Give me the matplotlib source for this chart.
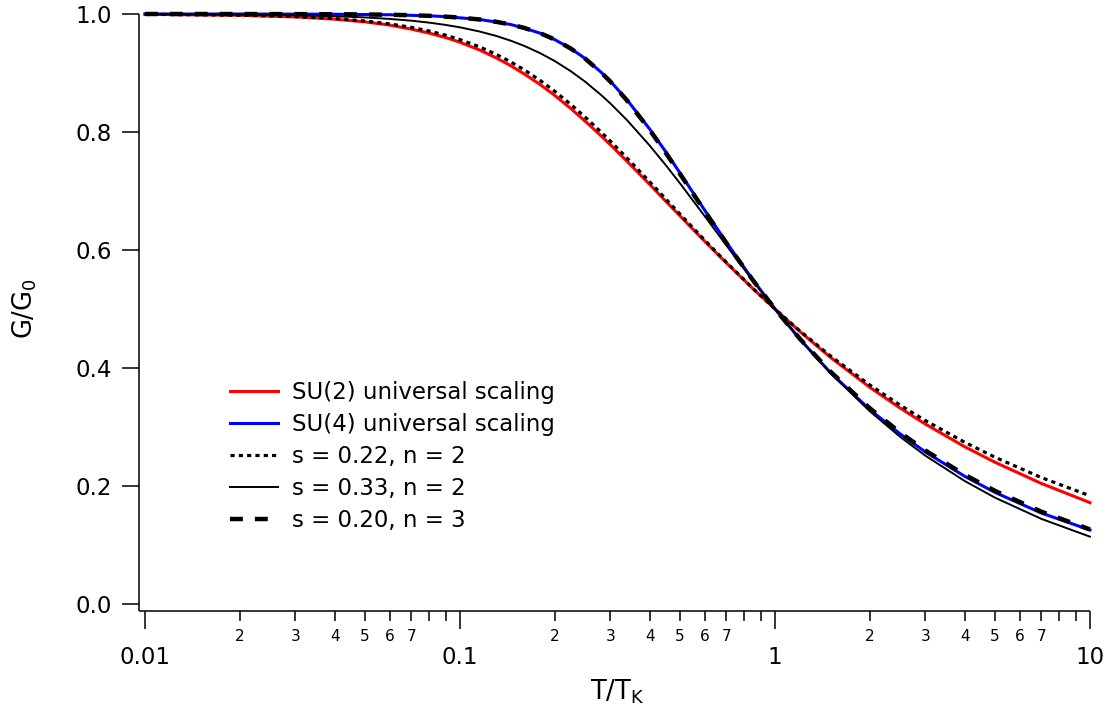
import matplotlib
matplotlib.use("Agg")
import matplotlib.pyplot as plt
from matplotlib.ticker import FixedLocator, FixedFormatter

# ---- data ----
T = [0.01, 0.02, 0.03, 0.04, 0.05, 0.06, 0.07, 0.08, 0.09, 0.1, 0.115, 0.13,
     0.145, 0.16, 0.18, 0.2, 0.225, 0.25, 0.28, 0.3, 0.34, 0.4, 0.45, 0.5,
     0.6, 0.7, 0.85, 1.0, 1.2, 1.5, 2.0, 2.5, 3.0, 4.0, 5.0, 7.0, 10.0]

su2 = [0.9995, 0.9978, 0.9951, 0.9913, 0.9866, 0.9811, 0.9744, 0.9675, 0.9601,
       0.9521, 0.9393, 0.9259, 0.9123, 0.8983, 0.8801, 0.8619, 0.8396, 0.8180,
       0.7938, 0.7786, 0.7497, 0.7112, 0.6826, 0.6575, 0.6140, 0.5784, 0.5347,
       0.5000, 0.4618, 0.4180, 0.3672, 0.3318, 0.3050, 0.2666, 0.2401, 0.2044,
       0.1718]

su4 = [1.0000, 0.99995, 0.9998, 0.9996, 0.9991, 0.9987, 0.9977, 0.9969, 0.9955,
       0.9935, 0.9908, 0.9865, 0.9821, 0.9760, 0.9673, 0.9565, 0.9413, 0.9243,
       0.9017, 0.8862, 0.8537, 0.8050, 0.7665, 0.7300, 0.6663, 0.6135, 0.5496,
       0.5000, 0.4487, 0.3920, 0.3295, 0.2880, 0.2578, 0.2165, 0.1890, 0.1543,
       0.1254]

s022_n2 = [0.9995, 0.9980, 0.9956, 0.9923, 0.9881, 0.9831, 0.9774, 0.9710, 0.9641,
           0.9566, 0.9446, 0.9319, 0.9188, 0.9053, 0.8871, 0.8689, 0.8466, 0.8250,
           0.8003, 0.7846, 0.7552, 0.7157, 0.6865, 0.6605, 0.6160, 0.5794, 0.5352,
           0.5000, 0.4628, 0.4205, 0.3712, 0.3368, 0.3110, 0.2742, 0.2486, 0.2144,
           0.1833]

s033_n2 = [0.9998, 0.9991, 0.9979, 0.9962, 0.9942, 0.9916, 0.9887, 0.9853, 0.9815,
           0.9774, 0.9705, 0.9630, 0.9547, 0.9459, 0.9334, 0.9202, 0.9029, 0.8850,
           0.8631, 0.8485, 0.8194, 0.7771, 0.7438, 0.7126, 0.6564, 0.6082, 0.5482,
           0.5000, 0.4489, 0.3916, 0.3266, 0.2831, 0.2515, 0.2085, 0.1801, 0.1444,
           0.1141]

s020_n3 = [1.0000, 0.99995, 0.9998, 0.9996, 0.9992, 0.9987, 0.9979, 0.9969, 0.9955,
           0.9939, 0.9908, 0.9869, 0.9821, 0.9764, 0.9673, 0.9567, 0.9413, 0.9241,
           0.9014, 0.8855, 0.8527, 0.8036, 0.7647, 0.7285, 0.6649, 0.6122, 0.5491,
           0.5000, 0.4494, 0.3938, 0.3317, 0.2903, 0.2602, 0.2190, 0.1916, 0.1566,
           0.1264]

labels = ["SU(2) universal scaling", "SU(4) universal scaling",
          "s = 0.22, n = 2", "s = 0.33, n = 2", "s = 0.20, n = 3"]

major_ticks = [0.01, 0.1, 1, 10]
major_labels = ["0.01", "0.1", "1", "10"]
minor_digits = [2, 3, 4, 5, 6, 7, 8, 9]
minor_digit_labels = ["2", "3", "4", "5", "6", "7", "", ""]
y_ticks = [0.0, 0.2, 0.4, 0.6, 0.8, 1.0]

# ---- figure ----
W, H = 1114, 713
fig = plt.figure(figsize=(W / 100, H / 100), dpi=100)
x0, x1, ytop, ybot = 145, 1090, 14, 604
ax = fig.add_axes([x0 / W, 1 - ybot / H, (x1 - x0) / W, (ybot - ytop) / H])

ax.plot(T, su2, color="#ff0000", lw=2.2, label=labels[0], clip_on=False, zorder=2)
ax.plot(T, su4, color="#0000ff", lw=2.2, label=labels[1], clip_on=False, zorder=2)
ax.plot(T, s022_n2, color="black", lw=2.3, linestyle=(0, (1.3, 1.3)),
        dash_capstyle="butt", label=labels[2], clip_on=False, zorder=3)
ax.plot(T, s033_n2, color="black", lw=1.4, label=labels[3], clip_on=False, zorder=3)
ax.plot(T, s020_n3, color="black", lw=3.2, linestyle=(0, (2.9, 2.7)),
        dash_capstyle="butt", label=labels[4], clip_on=False, zorder=4)

ax.set_xscale("log")
ax.set_xlim(0.01, 10)
ax.set_ylim(0, 1)

for s in ["top", "right"]:
    ax.spines[s].set_visible(False)
ax.spines["left"].set_position(("outward", 4.5))
ax.spines["bottom"].set_position(("outward", 5))
ax.spines["left"].set_linewidth(1.1)
ax.spines["bottom"].set_linewidth(1.1)
ax.spines["left"].set_capstyle("butt")
ax.spines["bottom"].set_capstyle("butt")
ax.spines["left"].set_bounds(-0.012, 1.0)
ax.spines["bottom"].set_bounds(0.00955, 10)

ax.xaxis.set_major_locator(FixedLocator(major_ticks))
ax.xaxis.set_major_formatter(FixedFormatter(major_labels))
minor_pos = [d * dec for dec in [0.01, 0.1, 1] for d in minor_digits]
minor_lab = [lab for dec in [0.01, 0.1, 1] for lab in minor_digit_labels]
ax.xaxis.set_minor_locator(FixedLocator(minor_pos))
ax.xaxis.set_minor_formatter(FixedFormatter(minor_lab))

ax.set_yticks(y_ticks)
ax.set_yticklabels([f"{v:.1f}" for v in y_ticks])
ax.yaxis.set_minor_locator(FixedLocator([]))

ax.tick_params(axis="x", which="major", direction="out", length=13, width=1.1,
               pad=12, labelsize=16.5)
ax.tick_params(axis="x", which="minor", direction="out", length=7.2, width=1.1,
               pad=5.5, labelsize=11)
ax.tick_params(axis="y", which="major", direction="out", length=12.5, width=1.1,
               pad=7, labelsize=16.5)

ax.set_xlabel(r"$\mathregular{T/T_K}$", fontsize=18.5)
ax.xaxis.set_label_coords(0.5, -0.125)
ax.xaxis.label.set_va("top")
ax.set_ylabel(r"$\mathregular{G/G_0}$", fontsize=18.5)
ax.yaxis.set_label_coords(-0.112, 0.5)

leg = ax.legend(loc="upper left",
                bbox_to_anchor=((230 - x0) / (x1 - x0), (ybot - 381) / (ybot - ytop)),
                frameon=False, fontsize=16.5, handlelength=2.1, handletextpad=0.6,
                labelspacing=0.39, borderpad=0, borderaxespad=0)

fig.savefig("out.png", dpi=100)
